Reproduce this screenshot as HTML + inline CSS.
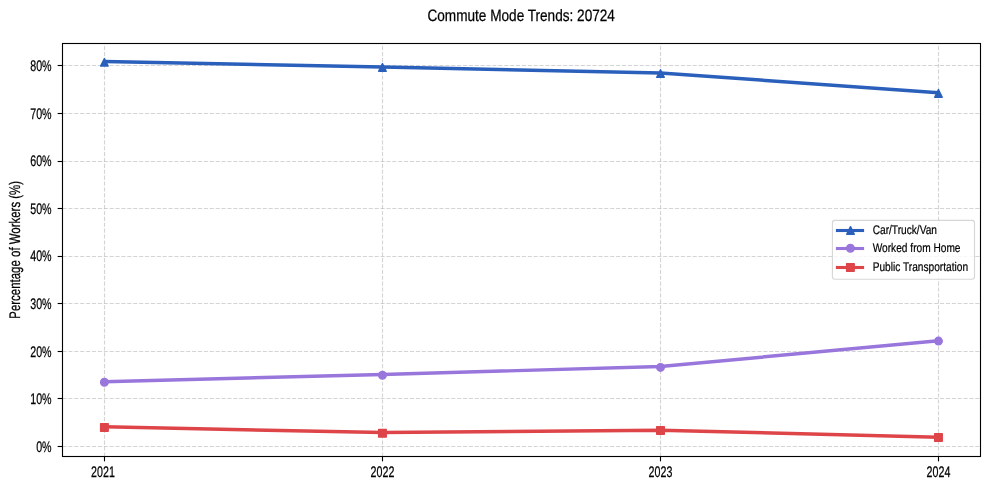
<!DOCTYPE html>
<html><head><meta charset="utf-8"><title>Commute Mode Trends: 20724</title><style>html,body{margin:0;padding:0;background:#fff;width:990px;height:490px;overflow:hidden}</style></head><body>
<svg width="990" height="490" viewBox="0 0 990 490" style="display:block;will-change:transform" text-rendering="geometricPrecision">
<rect width="990" height="490" fill="#fff"/>
<defs><clipPath id="c"><rect x="62.5" y="43.5" width="918.00" height="413.00"/></clipPath></defs>
<g stroke="#b0b0b0" stroke-opacity="0.55" stroke-width="1.11" stroke-dasharray="4.111 1.778" fill="none"><path d="M62.5,446.5H980.5"/><path d="M62.5,398.5H980.5"/><path d="M62.5,351.5H980.5"/><path d="M62.5,303.5H980.5"/><path d="M62.5,256.5H980.5"/><path d="M62.5,208.5H980.5"/><path d="M62.5,161.5H980.5"/><path d="M62.5,113.5H980.5"/><path d="M62.5,65.5H980.5"/><path d="M104.5,456.5V43.5"/><path d="M382.5,456.5V43.5"/><path d="M660.5,456.5V43.5"/><path d="M938.5,456.5V43.5"/></g>
<g clip-path="url(#c)">
<polyline points="104.50,61.60 382.50,67.10 660.50,73.06 938.50,92.66" fill="none" stroke="#2a60bb" stroke-width="3.47" stroke-linejoin="round" stroke-linecap="butt"/>
<path d="M104.40,58.50L100.60,66.10L108.20,66.10Z" fill="#2a60bb" stroke="#2a60bb" stroke-width="1.39" stroke-linejoin="round"/><path d="M382.45,63.60L378.65,71.20L386.25,71.20Z" fill="#2a60bb" stroke="#2a60bb" stroke-width="1.39" stroke-linejoin="round"/><path d="M660.50,69.70L656.70,77.30L664.30,77.30Z" fill="#2a60bb" stroke="#2a60bb" stroke-width="1.39" stroke-linejoin="round"/><path d="M938.45,89.60L934.65,97.20L942.25,97.20Z" fill="#2a60bb" stroke="#2a60bb" stroke-width="1.39" stroke-linejoin="round"/>
<polyline points="104.50,381.70 382.50,374.50 660.50,366.50 938.50,340.80" fill="none" stroke="#9976dc" stroke-width="3.47" stroke-linejoin="round" stroke-linecap="butt"/>
<circle cx="104.40" cy="382.30" r="3.80" fill="#9976dc" stroke="#9976dc" stroke-width="1.39" stroke-linejoin="round"/><circle cx="382.45" cy="375.30" r="3.80" fill="#9976dc" stroke="#9976dc" stroke-width="1.39" stroke-linejoin="round"/><circle cx="660.50" cy="367.40" r="3.80" fill="#9976dc" stroke="#9976dc" stroke-width="1.39" stroke-linejoin="round"/><circle cx="938.45" cy="341.10" r="3.80" fill="#9976dc" stroke="#9976dc" stroke-width="1.39" stroke-linejoin="round"/>
<polyline points="104.50,426.80 382.50,432.55 660.50,430.23 938.50,437.20" fill="none" stroke="#de4549" stroke-width="3.47" stroke-linejoin="round" stroke-linecap="butt"/>
<rect x="100.60" y="423.60" width="7.60" height="7.60" fill="#de4549" stroke="#de4549" stroke-width="1.39" stroke-linejoin="round"/><rect x="378.65" y="429.50" width="7.60" height="7.60" fill="#de4549" stroke="#de4549" stroke-width="1.39" stroke-linejoin="round"/><rect x="656.70" y="426.60" width="7.60" height="7.60" fill="#de4549" stroke="#de4549" stroke-width="1.39" stroke-linejoin="round"/><rect x="934.65" y="433.70" width="7.60" height="7.60" fill="#de4549" stroke="#de4549" stroke-width="1.39" stroke-linejoin="round"/>
</g>
<rect x="62.5" y="43.5" width="918.00" height="413.00" fill="none" stroke="#000" stroke-width="1.11" stroke-linejoin="miter"/>
<g stroke="#000" stroke-width="1.11"><path d="M57.64,446.5H62.5"/><path d="M57.64,398.5H62.5"/><path d="M57.64,351.5H62.5"/><path d="M57.64,303.5H62.5"/><path d="M57.64,256.5H62.5"/><path d="M57.64,208.5H62.5"/><path d="M57.64,161.5H62.5"/><path d="M57.64,113.5H62.5"/><path d="M57.64,65.5H62.5"/><path d="M104.5,456.5V461.36"/><path d="M382.5,456.5V461.36"/><path d="M660.5,456.5V461.36"/><path d="M938.5,456.5V461.36"/></g>
<g font-family='"Liberation Sans", Arial, sans-serif' font-size="15.3" fill="#000" stroke="#000" stroke-width="0.25"><text transform="translate(51.6,451.77) scale(0.698,1)" text-anchor="end">0%</text><text transform="translate(51.6,404.19) scale(0.698,1)" text-anchor="end">10%</text><text transform="translate(51.6,356.61) scale(0.698,1)" text-anchor="end">20%</text><text transform="translate(51.6,309.03) scale(0.698,1)" text-anchor="end">30%</text><text transform="translate(51.6,261.45) scale(0.698,1)" text-anchor="end">40%</text><text transform="translate(51.6,213.87) scale(0.698,1)" text-anchor="end">50%</text><text transform="translate(51.6,166.29) scale(0.698,1)" text-anchor="end">60%</text><text transform="translate(51.6,118.71) scale(0.698,1)" text-anchor="end">70%</text><text transform="translate(51.6,71.13) scale(0.698,1)" text-anchor="end">80%</text><text transform="translate(103.00,476.5) scale(0.698,1)" text-anchor="middle">2021</text><text transform="translate(382.50,476.5) scale(0.698,1)" text-anchor="middle">2022</text><text transform="translate(660.50,476.5) scale(0.698,1)" text-anchor="middle">2023</text><text transform="translate(938.50,476.5) scale(0.698,1)" text-anchor="middle">2024</text></g>
<text transform="translate(19.6,249.8) rotate(-90) scale(0.748,1)" text-anchor="middle" font-family='"Liberation Sans", Arial, sans-serif' font-size="15.3" fill="#000" stroke="#000" stroke-width="0.25">Percentage of Workers (%)</text>
<text transform="translate(521.2,21.15) scale(0.824,1)" text-anchor="middle" font-family='"Liberation Sans", Arial, sans-serif' font-size="16.5" fill="#000" stroke="#000" stroke-width="0.25">Commute Mode Trends: 20724</text>
<rect x="832.4" y="220.4" width="142.10" height="58.90" rx="2.5" fill="#fff" fill-opacity="0.8" stroke="#cccccc" stroke-opacity="0.8" stroke-width="1.11"/>
<path d="M835.9,230.5H864.1" stroke="#2a60bb" stroke-width="3.1"/>
<path d="M850.50,226.65L846.70,234.25L854.30,234.25Z" fill="#2a60bb" stroke="#2a60bb" stroke-width="1.39" stroke-linejoin="round"/>
<text transform="translate(872.7,233.7) scale(0.812,1)" font-family='"Liberation Sans", Arial, sans-serif' font-size="12.5" fill="#000" stroke="#000" stroke-width="0.2">Car/Truck/Van</text>
<path d="M835.9,248.5H864.1" stroke="#9976dc" stroke-width="3.1"/>
<circle cx="850.40" cy="248.20" r="3.80" fill="#9976dc" stroke="#9976dc" stroke-width="1.39" stroke-linejoin="round"/>
<text transform="translate(872.7,251.9) scale(0.812,1)" font-family='"Liberation Sans", Arial, sans-serif' font-size="12.5" fill="#000" stroke="#000" stroke-width="0.2">Worked from Home</text>
<path d="M835.9,267.5H864.1" stroke="#de4549" stroke-width="3.1"/>
<rect x="846.60" y="263.60" width="7.60" height="7.60" fill="#de4549" stroke="#de4549" stroke-width="1.39" stroke-linejoin="round"/>
<text transform="translate(872.7,271.1) scale(0.812,1)" font-family='"Liberation Sans", Arial, sans-serif' font-size="12.5" fill="#000" stroke="#000" stroke-width="0.2">Public Transportation</text>
</svg>
</body></html>
